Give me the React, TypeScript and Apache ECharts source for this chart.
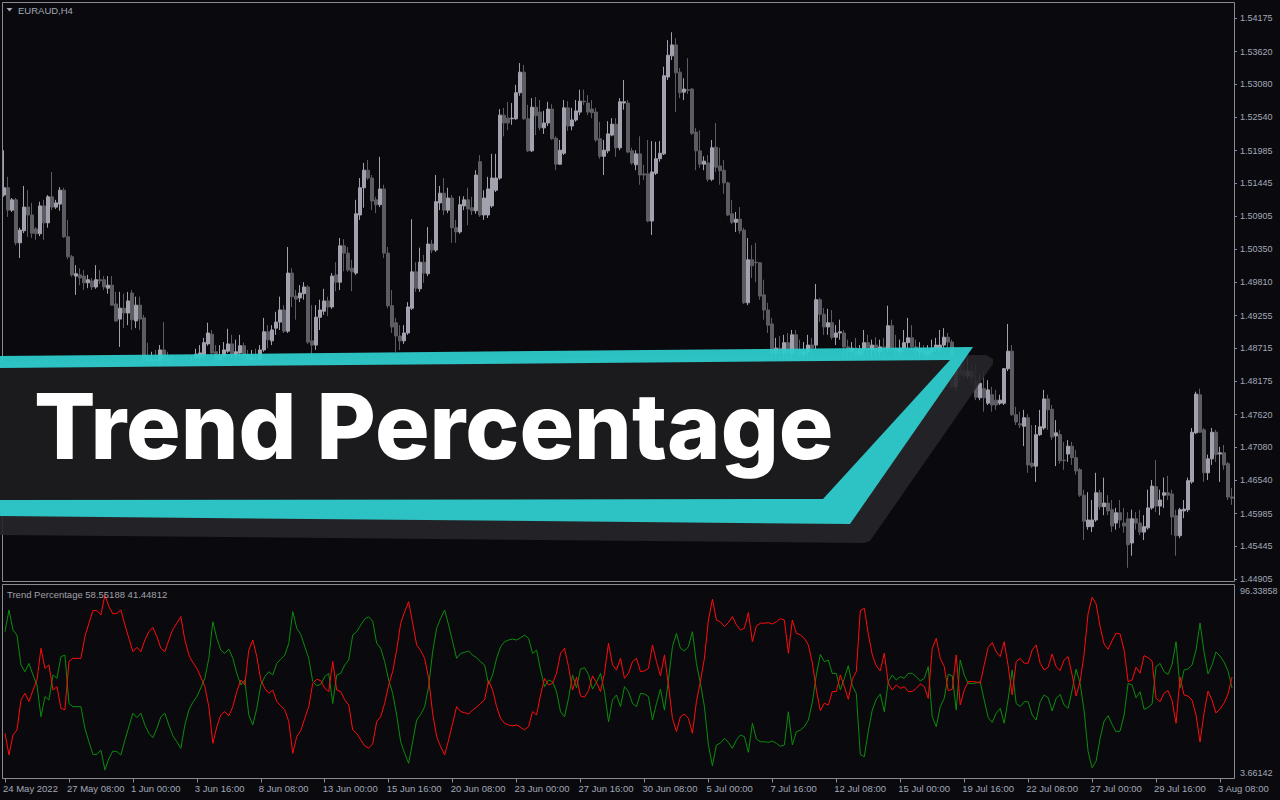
import React, { useEffect, useRef } from "react";
import * as echarts from "echarts";

// ---------- texts & scales ----------
const SYMBOL_LABEL = "EURAUD,H4";
const INDICATOR_NAME = "Trend Percentage";
const INDICATOR_VALUES_TEXT = "58.55188 41.44812";
const BANNER_TITLE = "Trend Percentage";
const INDICATOR_MAX = 96.33858;
const INDICATOR_MIN = 3.66142;
const PRICE_MIN = 1.44872;
const PRICE_MAX = 1.544394;
const PRICE_TICKS = [
  1.44905, 1.45445, 1.45985, 1.4654, 1.4708, 1.4762, 1.48175, 1.48715, 1.49255,
  1.4981, 1.5035, 1.50905, 1.51445, 1.51985, 1.5254, 1.5308, 1.5362, 1.54175,
];
const TIME_LABELS = [
  "24 May 2022", "27 May 08:00", "1 Jun 00:00", "3 Jun 16:00", "8 Jun 08:00",
  "13 Jun 00:00", "15 Jun 16:00", "20 Jun 08:00", "23 Jun 00:00", "27 Jun 16:00",
  "30 Jun 08:00", "5 Jul 00:00", "7 Jul 16:00", "12 Jul 08:00", "15 Jul 00:00",
  "19 Jul 16:00", "22 Jul 08:00", "27 Jul 00:00", "29 Jul 16:00", "3 Aug 08:00",
];
const LABEL_EVERY = 16;
const PRICE_UNIT = 10000; // candle values below are in 0.0001 units

// ---------- EURAUD H4 candles: [open, close, low, high] ----------
const CANDLES: number[][] = [
  [15125,15137,15122,15199],[15137,15100,15089,15155],[15100,15117,15097,15120],[15117,15046,15042,15120],
  [15046,15067,15021,15071],[15066,15105,15062,15140],[15105,15092,15056,15133],[15092,15062,15054,15112],
  [15069,15061,15051,15072],[15061,15107,15057,15114],[15107,15079,15051,15117],[15079,15122,15071,15125],
  [15122,15105,15100,15163],[15105,15112,15102,15117],[15110,15133,15099,15138],[15133,15056,15054,15137],
  [15056,15023,15019,15084],[15023,14993,14990,15026],[14991,14995,14960,15009],[14993,14988,14976,15004],
  [14991,14980,14968,15001],[14980,14985,14971,14993],[14983,14973,14968,14988],[14973,14985,14970,15009],
  [14985,14983,14978,15001],[14985,14973,14968,14991],[14971,14976,14962,14991],[14976,14943,14942,14991],
  [14945,14917,14915,14965],[14920,14938,14874,14965],[14938,14930,14905,14962],[14930,14950,14910,14965],
  [14963,14919,14902,14968],[14917,14943,14905,14957],[14943,14920,14902,14957],[14922,14856,14844,14927],
  [14856,14843,14833,14881],[14843,14853,14836,14866],[14853,14844,14833,14869],[14844,14869,14839,14877],
  [14869,14856,14849,14915],[14856,14849,14836,14866],[14849,14839,14828,14861],[14839,14829,14819,14853],
  [14829,14836,14814,14849],[14836,14826,14816,14846],[14826,14839,14819,14853],[14839,14849,14833,14859],
  [14856,14862,14844,14871],[14857,14864,14849,14877],[14861,14881,14856,14889],[14879,14897,14876,14914],
  [14895,14864,14861,14902],[14866,14853,14843,14877],[14853,14859,14846,14877],[14859,14869,14853,14882],
  [14867,14879,14864,14904],[14879,14861,14856,14894],[14861,14866,14856,14886],[14864,14876,14859,14894],
  [14876,14861,14853,14881],[14861,14853,14843,14869],[14853,14857,14839,14869],[14857,14853,14843,14871],
  [14853,14869,14849,14877],[14869,14899,14866,14922],[14899,14886,14872,14910],[14884,14902,14877,14910],
  [14905,14915,14894,14932],[14915,14935,14902,14957],[14935,14900,14897,14943],[14900,14996,14897,15039],
  [14996,14957,14940,15004],[14958,14953,14919,14968],[14955,14963,14948,14976],[14962,14973,14952,14981],
  [14973,14882,14879,14976],[14884,14877,14861,14943],[14877,14923,14869,14943],[14923,14935,14902,14952],
  [14933,14950,14927,14970],[14950,14940,14925,14957],[14940,14991,14937,14996],[14993,14981,14966,15014],
  [14981,15041,14968,15054],[15041,15029,14999,15052],[15029,15001,14998,15039],[15004,14998,14966,15018],
  [14996,15094,14993,15117],[15092,15137,15084,15153],[15137,15166,15104,15178],[15166,15153,15150,15183],
  [15153,15115,15100,15158],[15117,15109,15095,15122],[15109,15135,15105,15188],[15135,15029,15021,15142],
  [15029,14942,14938,15039],[14942,14907,14897,14968],[14914,14892,14866,14922],[14892,14884,14869,14910],
  [14884,14897,14879,14910],[14897,14940,14894,14948],[14938,14998,14935,15085],[14998,14971,14965,15014],
  [14970,15014,14965,15038],[15014,14996,14980,15026],[14995,15044,14991,15072],[15044,15034,15029,15051],
  [15034,15114,15031,15158],[15112,15128,15100,15140],[15128,15100,15092,15153],[15100,15120,15095,15137],
  [15120,15071,15046,15125],[15071,15064,15046,15084],[15064,15109,15061,15123],[15107,15117,15100,15123],
  [15117,15102,15075,15137],[15104,15099,15092,15122],[15099,15158,15094,15166],[15180,15092,15089,15191],
  [15092,15120,15084,15133],[15092,15135,15087,15155],[15107,15153,15104,15193],[15133,15153,15130,15193],
  [15153,15257,15150,15267],[15257,15244,15222,15269],[15252,15244,15232,15279],[15251,15252,15241,15277],
  [15251,15294,15249,15307],[15294,15328,15289,15343],[15328,15251,15249,15340],[15251,15198,15196,15274],
  [15198,15270,15196,15285],[15270,15256,15224,15287],[15262,15236,15232,15282],[15236,15244,15226,15264],
  [15244,15267,15239,15279],[15267,15218,15216,15275],[15219,15176,15166,15222],[15176,15199,15175,15216],
  [15194,15269,15191,15282],[15269,15239,15231,15280],[15239,15249,15232,15269],[15249,15264,15246,15282],
  [15262,15280,15257,15299],[15280,15279,15274,15299],[15277,15262,15257,15290],[15267,15261,15252,15282],
  [15262,15216,15213,15269],[15218,15189,15185,15246],[15189,15199,15158,15216],[15198,15226,15194,15247],
  [15224,15242,15222,15252],[15242,15203,15188,15252],[15203,15279,15199,15285],[15277,15279,15266,15315],
  [15277,15196,15194,15282],[15198,15178,15175,15203],[15175,15193,15166,15199],[15193,15158,15142,15222],
  [15160,15158,15150,15175],[15160,15082,15080,15216],[15082,15163,15059,15214],[15161,15185,15158,15213],
  [15185,15194,15180,15214],[15193,15322,15191,15337],[15320,15356,15315,15381],[15355,15373,15348,15394],
  [15373,15327,15262,15384],[15328,15294,15285,15335],[15295,15300,15282,15318],[15299,15298,15292,15351],
  [15300,15227,15224,15302],[15229,15198,15166,15236],[15198,15176,15170,15232],[15176,15181,15166,15189],
  [15178,15151,15147,15191],[15151,15203,15148,15216],[15204,15171,15163,15244],[15173,15165,15142,15203],
  [15166,15145,15127,15183],[15145,15092,15090,15147],[15094,15080,15077,15117],[15080,15085,15064,15097],
  [15085,15066,15061,15105],[15067,14947,14945,15071],[14947,15018,14943,15054],[15018,15008,14988,15042],
  [15014,15013,14981,15046],[15013,14958,14952,15014],[14960,14935,14919,14985],[14935,14910,14897,14947],
  [14912,14864,14856,14922],[14864,14872,14849,14889],[14872,14869,14853,14892],[14864,14881,14856,14894],
  [14881,14864,14853,14897],[14864,14894,14859,14902],[14894,14869,14856,14902],[14869,14861,14849,14886],
  [14861,14866,14853,14882],[14866,14877,14856,14894],[14877,14872,14859,14889],[14877,14952,14869,14978],
  [14952,14928,14915,14955],[14928,14907,14894,14938],[14907,14914,14894,14937],[14914,14890,14886,14935],
  [14890,14897,14877,14910],[14897,14899,14886,14919],[14897,14874,14861,14902],[14874,14866,14853,14886],
  [14866,14872,14856,14882],[14872,14861,14849,14889],[14861,14869,14853,14877],[14869,14881,14861,14902],
  [14881,14869,14856,14894],[14869,14877,14853,14886],[14877,14866,14853,14890],[14866,14874,14856,14886],
  [14874,14869,14856,14889],[14872,14909,14866,14942],[14909,14872,14869,14919],[14872,14866,14853,14894],
  [14866,14872,14856,14886],[14872,14881,14866,14902],[14881,14889,14872,14922],[14889,14874,14869,14910],
  [14874,14866,14856,14886],[14866,14871,14853,14882],[14871,14861,14849,14877],[14861,14867,14853,14877],
  [14867,14872,14859,14886],[14872,14877,14866,14889],[14872,14877,14866,14902],[14877,14890,14872,14905],
  [14890,14882,14869,14897],[14882,14808,14805,14886],[14808,14836,14803,14853],[14844,14828,14819,14849],
  [14836,14826,14823,14856],[14826,14834,14821,14856],[14834,14824,14811,14844],[14819,14791,14786,14844],
  [14790,14814,14786,14828],[14805,14790,14767,14833],[14781,14803,14778,14819],[14795,14778,14767,14808],
  [14786,14778,14770,14803],[14781,14786,14778,14795],[14781,14838,14778,14839],[14838,14867,14834,14912],
  [14867,14762,14760,14877],[14762,14750,14745,14775],[14747,14745,14740,14767],[14743,14757,14710,14770],
  [14757,14679,14666,14763],[14682,14677,14674,14745],[14677,14729,14651,14745],[14729,14742,14727,14770],
  [14740,14788,14737,14803],[14788,14770,14737,14795],[14771,14725,14720,14778],[14727,14732,14677,14753],
  [14729,14686,14681,14737],[14687,14686,14671,14717],[14697,14710,14684,14720],[14710,14691,14679,14717],
  [14691,14669,14663,14704],[14671,14629,14626,14674],[14629,14586,14555,14638],[14577,14588,14572,14634],
  [14577,14588,14568,14621],[14588,14633,14585,14666],[14633,14610,14605,14638],[14610,14616,14596,14658],
  [14616,14603,14596,14629],[14605,14578,14568,14621],[14583,14600,14572,14608],[14600,14588,14575,14621],
  [14583,14578,14567,14608],[14590,14547,14509,14601],[14550,14590,14529,14605],[14590,14583,14572,14601],
  [14583,14568,14563,14605],[14568,14577,14555,14596],[14575,14608,14572,14638],[14608,14644,14605,14654],
  [14643,14611,14601,14687],[14611,14621,14596,14638],[14629,14633,14608,14658],[14633,14629,14621,14661],
  [14631,14593,14563,14638],[14595,14562,14529,14605],[14562,14605,14558,14608],[14603,14606,14591,14621],
  [14605,14653,14601,14658],[14651,14733,14648,14740],[14732,14796,14730,14800],[14795,14733,14732,14805],
  [14737,14666,14651,14740],[14666,14689,14654,14696],[14689,14733,14679,14740],[14733,14696,14684,14737],
  [14697,14699,14651,14709],[14699,14679,14671,14712],[14681,14626,14621,14684],[14626,14624,14613,14641],
];

// ---------- Trend Percentage indicator (red buffer, %) ----------
const BEAR_PERCENT = [
  23.1,11.6,22.2,24.9,40.8,44.3,39.9,46.0,51.3,68.1,57.5,59.3,46.0,47.8,36.3,35.5,
  61.1,62.8,62.8,62.8,74.3,81.4,88.1,88.1,85.8,96.3,90.2,86.3,86.6,88.4,80.5,73.4,
  66.3,68.6,66.3,72.5,76.9,79.2,74.3,68.1,66.3,72.5,78.2,81.4,84.9,72.5,64.6,60.5,
  57.5,52.8,47.8,37.2,17.8,26.6,32.8,34.6,32.3,37.2,45.2,51.3,48.7,67.2,72.5,63.7,
  51.3,46.9,44.3,46.0,39.9,37.6,35.5,29.3,12.5,21.3,24.5,31.0,37.2,49.6,51.7,51.0,
  46.9,45.2,61.1,46.0,45.2,40.8,38.1,24.9,23.1,19.6,16.4,15.2,17.5,29.3,31.9,39.0,
  48.7,55.8,67.2,81.4,87.5,92.8,81.4,69.9,66.9,62.8,52.2,33.7,21.3,16.0,11.6,19.6,
  28.4,37.2,34.6,34.0,33.3,35.5,36.9,39.0,40.8,51.0,46.0,37.2,31.0,28.4,27.5,27.0,
  27.5,26.3,24.9,26.6,34.6,32.8,43.4,52.2,48.7,49.6,54.9,65.5,68.1,58.4,46.0,52.8,
  42.9,42.2,45.7,53.5,49.9,45.2,54.9,70.8,59.3,56.6,62.8,52.2,54.9,61.1,62.8,55.8,
  56.1,57.5,69.9,61.1,53.5,64.6,48.7,31.0,24.0,31.9,33.3,31.0,23.1,39.9,50.5,62.8,
  83.1,94.1,83.1,82.1,79.6,81.7,84.9,80.5,77.8,78.7,87.0,71.6,79.9,81.4,81.4,81.7,
  81.0,82.2,83.8,83.1,65.5,83.1,76.1,75.2,73.4,69.9,60.5,46.0,35.1,39.0,38.1,45.2,
  45.2,54.0,47.8,41.1,51.7,55.8,88.1,89.3,75.7,64.6,58.8,56.1,65.5,49.6,46.0,48.7,
  46.9,47.8,45.2,45.2,46.9,49.2,47.8,41.6,68.1,73.4,62.8,58.4,45.7,46.4,64.6,38.1,
  46.0,50.5,50.5,50.3,49.6,59.3,68.6,71.1,66.3,63.7,71.6,58.8,43.4,61.1,62.8,60.2,
  60.2,67.2,69.9,60.2,56.6,58.1,65.1,58.4,56.3,61.9,63.7,54.0,42.9,50.5,65.1,86.6,
  95.1,91.6,79.6,70.4,67.6,72.2,76.1,75.7,67.2,50.5,51.3,58.1,54.9,64.2,63.2,61.4,
  41.6,39.9,44.3,45.7,40.4,28.4,52.9,43.4,42.8,40.7,32.8,18.5,33.8,45.5,40.7,33.8,
  36.0,39.1,43.9,52.9,
];
// the indicator's two buffers always add up to 100 %
const BULL_PERCENT = BEAR_PERCENT.map((v) => +(100 - v).toFixed(1));

// ---------- bar time categories (H4, weekdays only) ----------
const MONTHS = ["Jan","Feb","Mar","Apr","May","Jun","Jul","Aug","Sep","Oct","Nov","Dec"];
function buildBarTimes(count: number): string[] {
  const out: string[] = [];
  let t = Date.UTC(2022, 4, 24, 16);
  while (out.length < count) {
    const d = new Date(t);
    const wd = d.getUTCDay();
    if (wd !== 0 && wd !== 6) {
      out.push(`${d.getUTCDate()} ${MONTHS[d.getUTCMonth()]} ${String(d.getUTCHours()).padStart(2, "0")}:00`);
    }
    t += 4 * 3600 * 1000;
  }
  return out;
}

const BG = "#0a0a0e";
const FRAME = "#8a8a92";
const AXIS_TEXT = "#a2a8b8";
const BULL = "#a2a2ae";
const BEAR = "#5c5c63";
const TEAL = "#2ecbcb";
const FONT = "Liberation Sans";

export default function App() {
  const ref = useRef<HTMLDivElement>(null);

  useEffect(() => {
    document.body.style.margin = "0";
    document.body.style.background = BG;
    if (!ref.current) return;
    const chart = echarts.init(ref.current, undefined, { renderer: "svg" });
    const barTimes = buildBarTimes(CANDLES.length);
    const candleData = CANDLES.map((r) => r.map((v) => v / PRICE_UNIT));

    const option: any = {
      animation: false,
      backgroundColor: BG,
      textStyle: { fontFamily: FONT },
      grid: [
        { left: 2, top: 2, width: 1232, height: 579 },
        { left: 2, top: 595, width: 1232, height: 175 },
      ],
      xAxis: [
        { type: "category", gridIndex: 0, data: barTimes, boundaryGap: true, show: false },
        {
          type: "category",
          gridIndex: 1,
          data: barTimes,
          boundaryGap: true,
          position: "bottom",
          offset: 8.5,
          axisLine: { show: false },
          splitLine: { show: false },
          axisTick: {
            show: true,
            interval: LABEL_EVERY - 1,
            alignWithLabel: true,
            length: 4,
            lineStyle: { color: FRAME },
          },
          axisLabel: {
            interval: LABEL_EVERY - 1,
            align: "left",
            margin: 5,
            color: AXIS_TEXT,
            fontSize: 9.5,
            fontFamily: FONT,
            padding: [0, 0, 0, -2],
            formatter: (_v: string, i: number) => TIME_LABELS[Math.round(i / LABEL_EVERY)] ?? "",
          },
        },
      ],
      yAxis: [
        {
          type: "value",
          gridIndex: 0,
          position: "right",
          min: PRICE_MIN,
          max: PRICE_MAX,
          axisLine: { show: false },
          splitLine: { show: false },
          axisTick: { show: true, customValues: PRICE_TICKS, length: 3, lineStyle: { color: FRAME } },
          axisLabel: {
            customValues: PRICE_TICKS,
            formatter: (v: number) => v.toFixed(5),
            margin: 6,
            color: AXIS_TEXT,
            fontSize: 9,
            fontFamily: FONT,
          },
        },
        {
          type: "value",
          gridIndex: 1,
          position: "right",
          min: INDICATOR_MIN,
          max: INDICATOR_MAX,
          show: false,
          splitLine: { show: false },
        },
      ],
      series: [
        {
          type: "candlestick",
          xAxisIndex: 0,
          yAxisIndex: 0,
          data: candleData,
          barWidth: 2.8,
          itemStyle: {
            color: BULL,
            color0: BEAR,
            borderColor: BULL,
            borderColor0: BEAR,
            borderWidth: 1,
          },
        },
        {
          type: "line",
          name: "bull",
          xAxisIndex: 1,
          yAxisIndex: 1,
          data: BULL_PERCENT,
          symbol: "none",
          lineStyle: { color: "#0c8c0c", width: 1 },
          itemStyle: { color: "#0c8c0c" },
        },
        {
          type: "line",
          name: "bear",
          xAxisIndex: 1,
          yAxisIndex: 1,
          data: BEAR_PERCENT,
          symbol: "none",
          lineStyle: { color: "#ff0c0c", width: 1 },
          itemStyle: { color: "#ff0c0c" },
        },
      ],
      graphic: {
        elements: [
          { type: "rect", z: 50, silent: true, shape: { x: 2.5, y: 2.5, width: 1232, height: 579 }, style: { fill: "none", stroke: FRAME, lineWidth: 1 } },
          { type: "rect", z: 50, silent: true, shape: { x: 2.5, y: 584.5, width: 1232, height: 194 }, style: { fill: "none", stroke: FRAME, lineWidth: 1 } },
          { type: "polygon", z: 60, silent: true, shape: { points: [[6.5, 8], [12.5, 8], [9.5, 11.5]] }, style: { fill: AXIS_TEXT } },
          { type: "text", z: 60, silent: true, style: { text: SYMBOL_LABEL, x: 18, y: 10.5, fill: AXIS_TEXT, fontSize: 9.5, fontFamily: FONT, verticalAlign: "middle" } },
          { type: "text", z: 60, silent: true, style: { text: `${INDICATOR_NAME} ${INDICATOR_VALUES_TEXT}`, x: 7, y: 594, fill: "#a0a0a8", fontSize: 9.5, fontFamily: FONT, verticalAlign: "middle" } },
          { type: "text", z: 60, silent: true, style: { text: INDICATOR_MAX.toFixed(5), x: 1240, y: 591, fill: AXIS_TEXT, fontSize: 9, fontFamily: FONT, verticalAlign: "middle" } },
          { type: "text", z: 60, silent: true, style: { text: INDICATOR_MIN.toFixed(5), x: 1240, y: 773, fill: AXIS_TEXT, fontSize: 9, fontFamily: FONT, verticalAlign: "middle" } },
          // banner
          {
            type: "polygon", z: 70, silent: true,
            shape: { points: [[0, 362], [986, 355], [993, 359], [993, 364], [870, 541], [864, 543], [0, 535]] },
            style: { fill: "rgba(38,38,42,0.9)" },
          },
          {
            type: "polygon", z: 71, silent: true,
            shape: { points: [[0, 356], [973, 347], [850, 524], [0, 516]] },
            style: { fill: TEAL, opacity: 0.95 },
          },
          {
            type: "polygon", z: 72, silent: true,
            shape: { points: [[0, 368], [950, 360], [823, 499], [0, 500]] },
            style: { fill: "#1b1b1e" },
          },
          {
            type: "text", z: 73, silent: true,
            style: {
              text: BANNER_TITLE, x: 34, y: 426, fill: "#ffffff",
              fontSize: 91, fontWeight: 800, fontFamily: "Inter",
              verticalAlign: "middle",
            },
          },
        ],
      },
    };

    chart.setOption(option);
    return () => chart.dispose();
  }, []);

  return <div ref={ref} style={{ width: 1280, height: 800 }} />;
}
